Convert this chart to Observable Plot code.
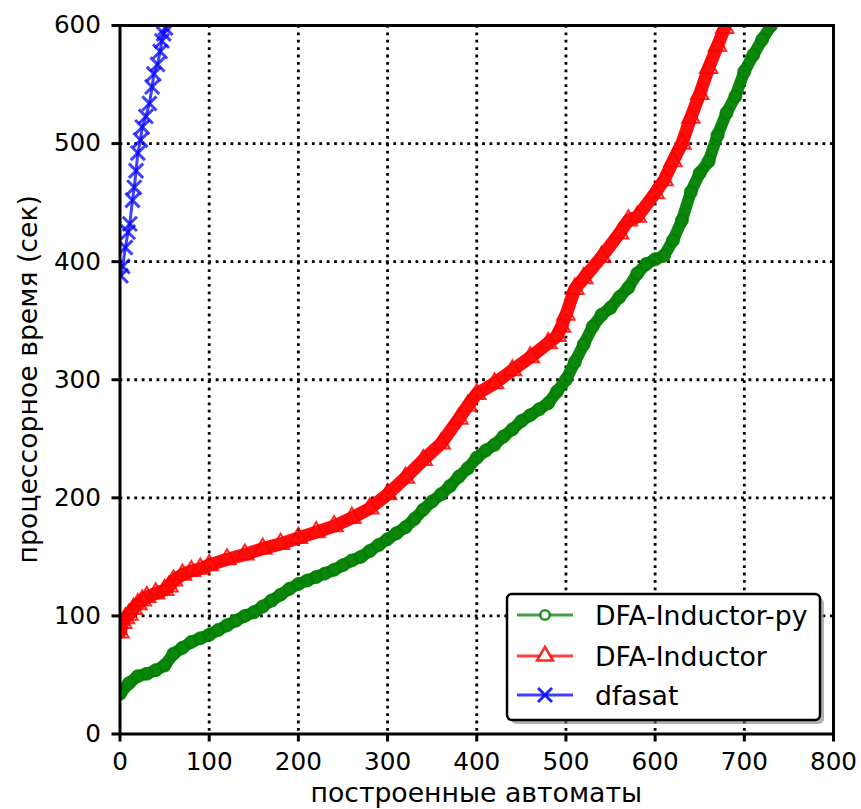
<!DOCTYPE html>
<html>
<head>
<meta charset="utf-8">
<script src="https://cdn.jsdelivr.net/npm/d3@7"></script>
<script src="https://cdn.jsdelivr.net/npm/@observablehq/plot@0.6"></script>
<style>
  html, body { margin: 0; padding: 0; background: white; }
</style>
</head>
<body>
<div id="chart"></div>
<script>
// ---- data ----
const xTicks = [0, 100, 200, 300, 400, 500, 600, 700, 800];
const yTicks = [0, 100, 200, 300, 400, 500, 600];

const seriesNames = ["DFA-Inductor-py", "DFA-Inductor", "dfasat"];

const pyX = [0,10,20,30,40,50,60,70,80,90,100,110,120,130,140,150,160,170,180,190,200,210,220,230,240,250,260,270,280,290,300,310,320,330,340,350,360,370,380,390,400,410,420,430,440,450,460,470,480,490,500,510,520,530,540,550,560,570,580,590,600,610,620,630,640,650,660,670,680,690,700,710,720,730];
const pyY = [34,43,49,51,54,58,68,73,78,81,84,88,92,96,100,103,108,113,118,123,127,130,133,136,139,143,147,150,155,160,165,170,175,182,190,197,203,210,218,225,234,240,245,252,258,265,270,275,280,290,300,315,330,345,355,361,370,378,390,398,402,405,418,435,459,475,485,507,526,540,561,575,588,600];

const indX = [0,3,6,10,15,20,25,30,40,50,55,60,70,80,90,100,120,140,160,180,200,220,240,260,280,300,320,340,360,380,390,400,420,440,460,480,490,495,500,510,520,540,560,570,580,600,610,620,630,640,650,660,670,678];
const indY = [86,94,98,101,106,110,113,116,119,122,125,130,135,138,140,143,148,152,157,161,166,171,176,183,191,203,217,232,246,267,278,288,297,308,319,331,337,345,355,377,386,404,424,435,438,458,469,485,500,522,542,564,583,598];

const satX = [1,3,6,9,11,14,16,18,20,23,25,29,33,36,38,42,45,47,49,51];
const satY = [388,396,412,425,432,452,463,477,492,503,514,523,534,548,559,567,578,587,593,598];

const colors = ["#008000", "#ff0000", "#0000ff"];
const symbols = ["circle", "triangle", "times"];

const toRows = (xs, ys) => xs.map((x, i) => ({x, y: ys[i]}));
const pyData = toRows(pyX, pyY);
const indData = toRows(indX, indY);
const satData = toRows(satX, satY);

const FONT = "DejaVu Sans, Verdana, sans-serif";
const TICK_FS = 24.7, LABEL_FS = 26.7;
const W = 861, H = 809;
const mL = 119.5, mR = 28, mT = 25, mB = 75.5;

const gridStyle = {stroke: "black", strokeOpacity: 1, strokeWidth: 2.8, strokeDasharray: "2.8,4.6"};

const plot = Plot.plot({
  width: W,
  height: H,
  marginLeft: mL,
  marginRight: mR,
  marginTop: mT,
  marginBottom: mB,
  style: {fontFamily: FONT, fontSize: TICK_FS + "px", background: "white", color: "black"},
  x: {domain: [0, 800]},
  y: {domain: [0, 600]},
  marks: [
    Plot.gridX(xTicks.slice(1, -1), gridStyle),
    Plot.gridY(yTicks.slice(1, -1), gridStyle),
    // DFA-Inductor-py
    Plot.line(pyData, {x: "x", y: "y", stroke: colors[0], strokeWidth: 12, strokeOpacity: 0.95, clip: true}),
    Plot.dot(pyData, {x: "x", y: "y", symbol: symbols[0], r: 6, stroke: colors[0], strokeWidth: 2, fill: "none", strokeOpacity: 0.85, clip: true}),
    // DFA-Inductor
    Plot.line(indData, {x: "x", y: "y", stroke: colors[1], strokeWidth: 13, strokeOpacity: 0.95, clip: true}),
    Plot.dot(indData, {x: "x", y: "y", symbol: symbols[1], r: 6.5, stroke: colors[1], strokeWidth: 2, fill: "none", strokeOpacity: 0.85, clip: true}),
    // dfasat
    Plot.line(satData, {x: "x", y: "y", stroke: colors[2], strokeWidth: 3, strokeOpacity: 0.75, clip: true}),
    Plot.dot(satData, {x: "x", y: "y", symbol: symbols[2], r: 6.5, stroke: colors[2], strokeWidth: 3, strokeOpacity: 0.75, clip: true}),
    Plot.frame({stroke: "black", strokeWidth: 3}),
    Plot.axisX({ticks: xTicks, tickSize: 8, tickPadding: 10, strokeWidth: 3, label: null, fontSize: TICK_FS}),
    Plot.axisY({ticks: yTicks, tickSize: 8, tickPadding: 11, strokeWidth: 3, label: null, fontSize: TICK_FS})
  ]
});

document.getElementById("chart").appendChild(plot);

const svg = d3.select(plot);
const plotCx = mL + (W - mL - mR) / 2;
const plotCy = mT + (H - mT - mB) / 2;

// axis titles
svg.append("text")
  .attr("x", plotCx).attr("y", 802)
  .attr("text-anchor", "middle")
  .attr("font-family", FONT).attr("font-size", LABEL_FS).attr("fill", "black")
  .text("построенные автоматы");

svg.append("text")
  .attr("transform", `translate(${37},${plotCy}) rotate(-90)`)
  .attr("text-anchor", "middle")
  .attr("font-family", FONT).attr("font-size", LABEL_FS).attr("fill", "black")
  .text("процессорное время (сек)");

// legend
const lg = svg.append("g");
const bx = 507, by = 594, bw = 313, bh = 126;
lg.append("rect").attr("x", bx + 4).attr("y", by + 4).attr("width", bw).attr("height", bh)
  .attr("rx", 5).attr("fill", "#7f7f7f").attr("fill-opacity", 0.6);
lg.append("rect").attr("x", bx).attr("y", by).attr("width", bw).attr("height", bh)
  .attr("rx", 5).attr("fill", "white").attr("stroke", "black").attr("stroke-width", 2.5);

const rowY = [615, 656, 695];
const d3Sym = {circle: d3.symbolCircle, triangle: d3.symbolTriangle, times: d3.symbolTimes};
seriesNames.forEach((name, i) => {
  const y = rowY[i];
  lg.append("line").attr("x1", 517).attr("x2", 573).attr("y1", y).attr("y2", y)
    .attr("stroke", colors[i]).attr("stroke-width", 3).attr("stroke-opacity", 0.75);
  const size = i === 0 ? 70 : (i === 1 ? 110 : 130);
  lg.append("path")
    .attr("d", d3.symbol(d3Sym[symbols[i]], size)())
    .attr("transform", `translate(545,${y})`)
    .attr("fill", i === 2 ? "none" : "white")
    .attr("stroke", colors[i]).attr("stroke-width", i === 2 ? 3 : 2.5)
    .attr("stroke-opacity", 0.85);
  lg.append("text").attr("x", 595).attr("y", y + 10)
    .attr("text-anchor", "start")
    .attr("font-family", FONT).attr("font-size", LABEL_FS).attr("fill", "black")
    .text(name);
});
</script>
</body>
</html>
